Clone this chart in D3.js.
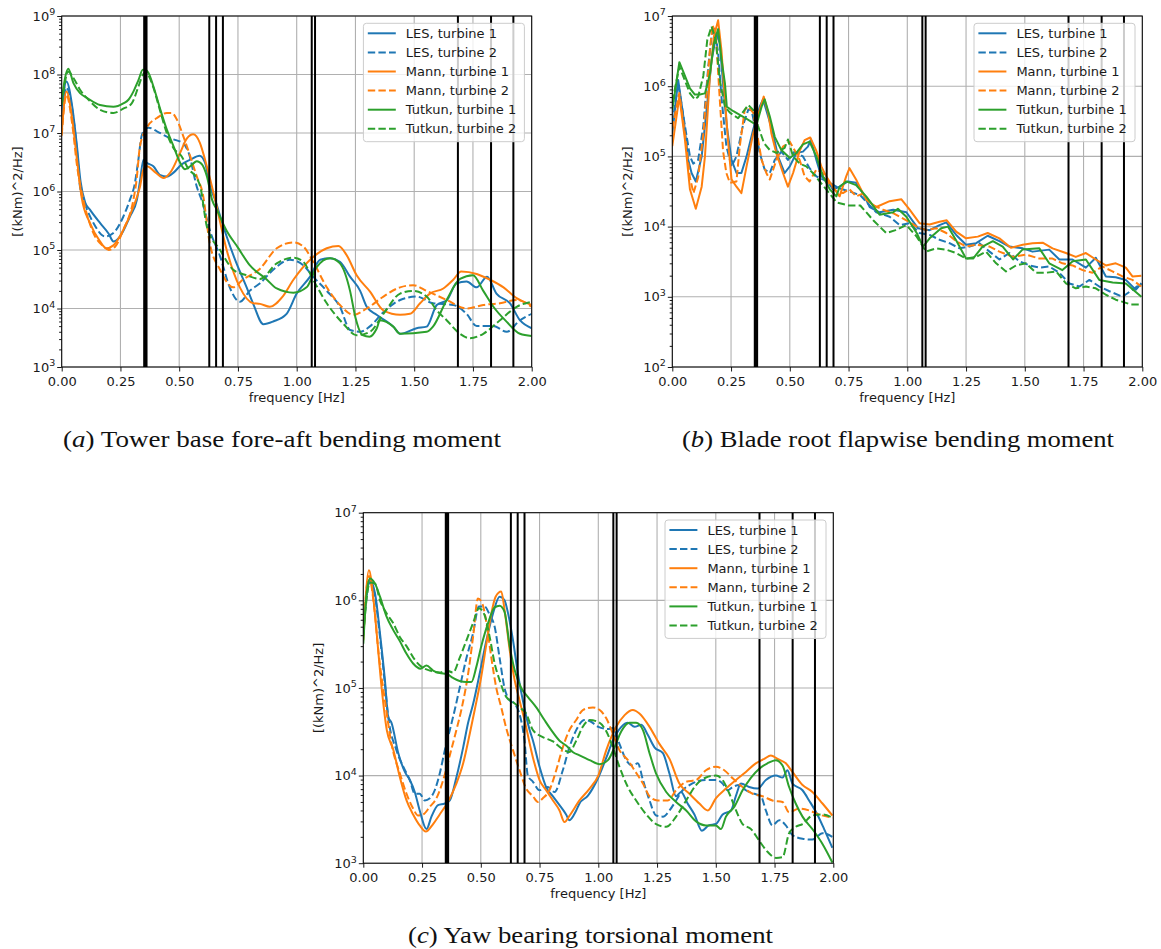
<!DOCTYPE html>
<html>
<head>
<meta charset="utf-8">
<script src="https://cdn.jsdelivr.net/npm/d3@7"></script>
<style>
  body { margin: 0; background: #fff; }
  svg { display: block; font-family: "DejaVu Sans", sans-serif; }
  .grid line { stroke: #b0b0b0; stroke-width: 1.1; }
  .axis text { font-size: 13px; fill: #1a1a1a; font-family: "DejaVu Sans", sans-serif; }
  .axis line { stroke: #1a1a1a; stroke-width: 1; }
  .label { font-size: 13px; fill: #1a1a1a; }
  .legend text { font-size: 13px; fill: #1a1a1a; }
  .caption { font-family: "Liberation Serif", serif; font-size: 23px; fill: #111; }
</style>
</head>
<body>
<svg id="fig" width="1161" height="949"></svg>
<script>
// ---- shared chart settings ----
const seriesLabels = ["LES, turbine 1", "LES, turbine 2", "Mann, turbine 1", "Mann, turbine 2", "Tutkun, turbine 1", "Tutkun, turbine 2"];
const seriesColors = ["#1f77b4", "#1f77b4", "#ff7f0e", "#ff7f0e", "#2ca02c", "#2ca02c"];
const seriesDashed = [false, true, false, true, false, true];
const freqTicks = [0, 0.25, 0.5, 0.75, 1.0, 1.25, 1.5, 1.75, 2.0];
const markerFreqs = [0.351, 0.356, 0.361, 0.628, 0.657, 0.686, 1.064, 1.078, 1.686, 1.827, 1.922];
const towerYTicks = [1e3, 1e4, 1e5, 1e6, 1e7, 1e8, 1e9];
const bladeYTicks = [1e2, 1e3, 1e4, 1e5, 1e6, 1e7];
const yawYTicks = [1e3, 1e4, 1e5, 1e6, 1e7];

// ---- (a) tower base fore-aft bending moment, [frequency Hz, PSD] ----
const towerLes1 = [[0,2.0e7],[0.02,7.6e7],[0.045,2.8e7],[0.065,5.9e6],[0.08,1.5e6],[0.1,6.5e5],[0.12,4.9e5],[0.163,2.9e5],[0.2,1.9e5],[0.22,1.4e5],[0.248,1.7e5],[0.29,3.7e5],[0.32,7.2e5],[0.333,1.5e6],[0.348,3.5e6],[0.362,3.1e6],[0.39,2.7e6],[0.42,1.9e6],[0.447,1.8e6],[0.476,2.1e6],[0.51,2.9e6],[0.547,3.5e6],[0.587,4.1e6],[0.61,3.1e6],[0.632,1.2e6],[0.653,7.2e5],[0.68,3.2e5],[0.702,1.7e5],[0.744,5.9e4],[0.787,2.3e4],[0.815,1.2e4],[0.858,5.4e3],[0.9,6.0e3],[0.957,8.1e3],[1.0,1.8e4],[1.057,3.5e4],[1.1,6.8e4],[1.142,7.2e4],[1.184,6.3e4],[1.227,3.5e4],[1.27,2.0e4],[1.298,1.07e4],[1.34,7.8e3],[1.411,4.9e3],[1.44,3.7e3],[1.51,4.6e3],[1.553,4.9e3],[1.596,1.15e4],[1.64,1.4e4],[1.68,2.7e4],[1.723,2.9e4],[1.766,2.3e4],[1.81,3.5e4],[1.85,1.8e4],[1.907,1.23e4],[1.95,6.3e3],[2.0,4.6e3]];
const towerLes2 = [[0,1.2e7],[0.02,6.0e7],[0.045,2.5e7],[0.065,5.0e6],[0.078,1.2e6],[0.1,6.0e5],[0.135,2.9e5],[0.185,1.7e5],[0.22,1.95e5],[0.262,3.7e5],[0.29,7.2e5],[0.31,1.3e6],[0.325,3.2e6],[0.34,8.9e6],[0.355,1.15e7],[0.37,1.23e7],[0.405,1.07e7],[0.447,8.7e6],[0.476,7.8e6],[0.518,6.6e6],[0.54,4.6e6],[0.575,1.2e6],[0.6,6.3e5],[0.63,2.2e5],[0.674,7.8e4],[0.715,2.3e4],[0.758,1.3e4],[0.8,2.0e4],[0.844,2.7e4],[0.9,4.6e4],[0.971,6.8e4],[1.028,5.5e4],[1.07,3.5e4],[1.128,2.0e4],[1.184,1.07e4],[1.227,4.3e3],[1.27,4.0e3],[1.31,4.9e3],[1.37,8.7e3],[1.44,1.4e4],[1.51,1.6e4],[1.58,1.23e4],[1.666,1.15e4],[1.723,8.1e3],[1.766,5.0e3],[1.837,5.0e3],[1.894,4.0e3],[1.95,6.3e3],[2.0,8.1e3]];
const towerMann1 = [[0,1.0e7],[0.02,5.1e7],[0.045,1.7e7],[0.065,3.5e6],[0.085,7.9e5],[0.12,2.9e5],[0.163,1.4e5],[0.19,1.07e5],[0.22,1.2e5],[0.262,2.2e5],[0.305,5.5e5],[0.333,1.2e6],[0.348,2.4e6],[0.362,2.7e6],[0.4,2.1e6],[0.433,1.7e6],[0.462,2.1e6],[0.504,4.6e6],[0.533,8.1e6],[0.56,9.5e6],[0.588,6.8e6],[0.61,3.5e6],[0.632,1.6e6],[0.653,7.2e5],[0.702,1.0e5],[0.758,2.3e4],[0.815,1.23e4],[0.844,1.2e4],[0.886,1.07e4],[0.94,1.6e4],[0.986,3.1e4],[1.057,6.8e4],[1.128,1.07e5],[1.178,1.17e5],[1.213,8.1e4],[1.255,3.7e4],[1.312,1.95e4],[1.369,9.3e3],[1.44,7.8e3],[1.482,8.1e3],[1.525,1.23e4],[1.567,1.8e4],[1.624,2.2e4],[1.666,3.1e4],[1.7,4.3e4],[1.766,3.9e4],[1.823,3.1e4],[1.88,2.3e4],[1.936,1.5e4],[2.0,1.15e4]];
const towerMann2 = [[0,9.0e6],[0.02,4.5e7],[0.045,1.4e7],[0.065,2.8e6],[0.092,7.2e5],[0.135,1.95e5],[0.178,1.15e5],[0.2,1.0e5],[0.228,1.15e5],[0.262,2.2e5],[0.305,7.2e5],[0.318,1.5e6],[0.333,5.9e6],[0.362,1.23e7],[0.405,1.8e7],[0.447,2.2e7],[0.468,2.2e7],[0.49,1.7e7],[0.518,8.7e6],[0.547,4.0e6],[0.575,1.8e6],[0.6,9.3e5],[0.63,1.3e5],[0.674,4.6e4],[0.73,2.3e4],[0.77,3.1e4],[0.844,4.8e4],[0.915,1.07e5],[0.986,1.35e5],[1.028,1.15e5],[1.07,6.3e4],[1.128,2.3e4],[1.184,1.15e4],[1.241,7.8e3],[1.298,1.0e4],[1.369,1.6e4],[1.44,2.3e4],[1.496,2.5e4],[1.553,2.0e4],[1.638,1.4e4],[1.723,1.0e4],[1.794,1.15e4],[1.865,1.23e4],[1.936,1.4e4],[2.0,1.07e4]];
const towerTutkun1 = [[0,3.7e7],[0.028,1.26e8],[0.05,7.1e7],[0.078,4.8e7],[0.107,4.0e7],[0.163,3.0e7],[0.22,2.8e7],[0.262,3.2e7],[0.284,3.7e7],[0.305,5.1e7],[0.327,8.1e7],[0.345,1.2e8],[0.355,1.2e8],[0.37,1.05e8],[0.39,6.3e7],[0.42,2.5e7],[0.447,1.15e7],[0.476,5.9e6],[0.504,3.1e6],[0.525,2.4e6],[0.547,2.7e6],[0.575,3.3e6],[0.597,2.9e6],[0.618,1.8e6],[0.64,7.2e5],[0.66,4.9e5],[0.7,2.2e5],[0.75,1.1e5],[0.8,5.5e4],[0.87,3.2e4],[0.915,2.2e4],[0.986,1.86e4],[1.042,2.3e4],[1.085,5.1e4],[1.142,7.2e4],[1.184,5.9e4],[1.227,2.0e4],[1.25,7.0e3],[1.28,3.5e3],[1.31,3.3e3],[1.34,4.5e3],[1.355,6.3e3],[1.411,4.9e3],[1.44,3.7e3],[1.553,4.0e3],[1.58,4.9e3],[1.638,1.4e4],[1.695,3.2e4],[1.75,3.7e4],[1.794,2.0e4],[1.837,1.07e4],[1.894,5.9e3],[1.95,3.7e3],[2.0,3.4e3]];
const towerTutkun2 = [[0,3.0e7],[0.028,1.12e8],[0.05,8.7e7],[0.078,5.5e7],[0.12,3.5e7],[0.163,2.5e7],[0.22,2.2e7],[0.262,2.6e7],[0.298,3.2e7],[0.327,6.3e7],[0.345,9.8e7],[0.355,1.1e8],[0.37,9.5e7],[0.39,6.0e7],[0.42,2.3e7],[0.447,1.0e7],[0.476,5.5e6],[0.51,4.0e6],[0.54,2.4e6],[0.57,1.8e6],[0.59,1.2e6],[0.618,2.5e5],[0.674,1.0e5],[0.73,4.6e4],[0.787,3.7e4],[0.844,3.2e4],[0.915,5.9e4],[0.986,7.4e4],[1.028,6.3e4],[1.07,3.1e4],[1.128,1.23e4],[1.198,5.5e3],[1.255,3.5e3],[1.312,4.0e3],[1.369,8.1e3],[1.44,1.8e4],[1.496,2.0e4],[1.553,1.6e4],[1.596,9.3e3],[1.638,6.3e3],[1.695,3.7e3],[1.737,3.1e3],[1.794,3.7e3],[1.865,6.3e3],[1.936,1.07e4],[2.0,1.3e4]];

// ---- (b) blade root flapwise bending moment ----
const bladeLes1 = [[0,2.1e5],[0.025,1.23e6],[0.047,3.7e5],[0.068,8.9e4],[0.082,5.8e4],[0.1,4.4e4],[0.125,1.0e5],[0.146,4.6e5],[0.167,2.3e6],[0.188,5.6e6],[0.202,4.1e6],[0.216,1.1e6],[0.232,2.7e5],[0.252,8.9e4],[0.273,5.8e4],[0.294,5.8e4],[0.316,1.0e5],[0.344,2.4e5],[0.372,5.1e5],[0.386,6.5e5],[0.408,3.7e5],[0.429,2.1e5],[0.45,1.0e5],[0.478,5.8e4],[0.5,7.2e4],[0.528,1.12e5],[0.556,1.17e5],[0.577,1.38e5],[0.59,1.74e5],[0.613,8.9e4],[0.634,5.2e4],[0.655,4.7e4],[0.683,3.4e4],[0.712,3.7e4],[0.747,4.4e4],[0.782,4.2e4],[0.811,3.0e4],[0.84,1.9e4],[0.882,1.6e4],[0.94,1.74e4],[0.996,1.6e4],[1.045,9.5e3],[1.095,8.9e3],[1.137,1.05e4],[1.166,1.15e4],[1.208,7.6e3],[1.25,5.5e3],[1.293,5.8e3],[1.342,7.4e3],[1.392,6.2e3],[1.434,5.2e3],[1.491,4.9e3],[1.533,4.4e3],[1.604,4.7e3],[1.647,3.4e3],[1.703,3.4e3],[1.76,2.6e3],[1.802,3.6e3],[1.845,1.95e3],[1.887,1.9e3],[1.93,1.74e3],[1.972,1.26e3],[1.996,1.55e3]];
const bladeLes2 = [[0,3.0e5],[0.025,1.1e6],[0.054,2.7e5],[0.075,1.0e5],[0.089,7.9e4],[0.11,8.9e4],[0.132,2.7e5],[0.153,1.9e6],[0.167,5.1e6],[0.181,6.6e6],[0.195,3.0e6],[0.21,6.5e5],[0.23,1.4e5],[0.252,7.2e4],[0.273,1.0e5],[0.3,2.7e5],[0.323,4.6e5],[0.337,4.6e5],[0.351,2.7e5],[0.372,1.12e5],[0.393,6.5e4],[0.415,5.8e4],[0.436,8.9e4],[0.464,1.17e5],[0.492,8.9e4],[0.52,1.17e5],[0.556,1.0e5],[0.584,6.8e4],[0.613,5.2e4],[0.641,4.7e4],[0.67,4.2e4],[0.712,3.5e4],[0.75,3.2e4],[0.8,2.8e4],[0.84,2.0e4],[0.868,1.6e4],[0.925,1.38e4],[0.967,1.05e4],[1.01,1.12e4],[1.052,8.1e3],[1.095,7.6e3],[1.137,6.5e3],[1.18,5.8e3],[1.222,4.9e3],[1.265,5.2e3],[1.307,5.8e3],[1.35,4.4e3],[1.392,3.4e3],[1.434,4.2e3],[1.477,3.2e3],[1.52,2.8e3],[1.562,2.6e3],[1.604,2.7e3],[1.647,2.2e3],[1.69,1.55e3],[1.732,1.4e3],[1.775,1.74e3],[1.817,1.4e3],[1.86,1.2e3],[1.916,1.0e3],[1.958,1.26e3],[1.996,1.55e3]];
const bladeMann1 = [[0,1.4e5],[0.03,7.1e5],[0.054,1.7e5],[0.075,3.4e4],[0.1,1.8e4],[0.125,3.7e4],[0.139,1.0e5],[0.16,1.4e6],[0.177,5.1e6],[0.195,8.7e6],[0.209,3.3e6],[0.224,6.5e5],[0.238,1.55e5],[0.252,4.7e4],[0.273,3.7e4],[0.294,3.0e4],[0.316,7.2e4],[0.344,2.1e5],[0.372,4.6e5],[0.389,7.1e5],[0.408,4.2e5],[0.422,2.1e5],[0.443,1.1e5],[0.471,5.8e4],[0.492,3.7e4],[0.514,5.8e4],[0.542,1.2e5],[0.563,1.7e5],[0.587,1.86e5],[0.613,1.2e5],[0.634,7.2e4],[0.655,5.2e4],[0.683,3.7e4],[0.712,2.7e4],[0.74,5.2e4],[0.754,6.8e4],[0.782,4.7e4],[0.811,3.0e4],[0.826,2.4e4],[0.868,1.9e4],[0.925,2.3e4],[0.975,2.45e4],[1.01,1.74e4],[1.052,1.12e4],[1.095,1.07e4],[1.137,1.17e4],[1.168,1.23e4],[1.208,8.5e3],[1.25,6.8e3],[1.3,7.2e3],[1.342,8.1e3],[1.392,6.8e3],[1.441,5.0e3],[1.491,5.5e3],[1.533,5.8e3],[1.576,5.9e3],[1.618,4.9e3],[1.675,4.2e3],[1.717,3.7e3],[1.76,4.2e3],[1.802,3.4e3],[1.845,2.8e3],[1.887,3.0e3],[1.93,2.6e3],[1.958,1.95e3],[1.996,2.0e3]];
const bladeMann2 = [[0,2.5e5],[0.03,8.0e5],[0.054,2.0e5],[0.075,5.0e4],[0.09,3.0e4],[0.11,5.0e4],[0.132,2.1e5],[0.16,3.3e6],[0.171,7.4e6],[0.185,5.6e6],[0.202,6.5e5],[0.216,1.2e5],[0.23,5.8e4],[0.245,4.2e4],[0.273,4.4e4],[0.287,1.38e5],[0.308,4.6e5],[0.323,5.1e5],[0.344,4.2e5],[0.365,1.74e5],[0.38,8.9e4],[0.4,5.8e4],[0.415,4.7e4],[0.443,8.9e4],[0.471,1.38e5],[0.5,1.62e5],[0.52,1.23e5],[0.542,8.9e4],[0.563,5.2e4],[0.584,4.4e4],[0.613,6.5e4],[0.64,5.8e4],[0.67,4.0e4],[0.698,3.2e4],[0.726,3.0e4],[0.754,3.4e4],[0.782,2.7e4],[0.81,2.95e4],[0.855,2.0e4],[0.897,1.74e4],[0.94,1.55e4],[0.996,1.23e4],[1.04,1.0e4],[1.08,8.9e3],[1.123,9.5e3],[1.166,8.1e3],[1.208,6.2e3],[1.25,5.2e3],[1.293,5.5e3],[1.35,5.2e3],[1.392,4.4e3],[1.449,3.7e3],[1.505,4.0e3],[1.562,3.5e3],[1.618,3.5e3],[1.66,3.0e3],[1.703,2.8e3],[1.746,2.4e3],[1.788,2.2e3],[1.83,2.7e3],[1.873,2.3e3],[1.916,1.95e3],[1.958,1.74e3],[1.996,1.4e3]];
const bladeTutkun1 = [[0,4.6e5],[0.03,2.2e6],[0.047,1.6e6],[0.075,9.3e5],[0.096,7.6e5],[0.117,7.6e5],[0.139,7.9e5],[0.16,1.5e6],[0.177,4.1e6],[0.195,6.5e6],[0.209,2.5e6],[0.224,1.1e6],[0.232,5.1e5],[0.26,4.4e5],[0.3,3.7e5],[0.344,3.0e5],[0.358,2.8e5],[0.38,5.1e5],[0.393,6.5e5],[0.415,3.7e5],[0.436,1.9e5],[0.464,1.23e5],[0.5,9.5e4],[0.528,1.12e5],[0.556,1.48e5],[0.584,1.62e5],[0.613,1.0e5],[0.641,5.2e4],[0.67,3.4e4],[0.698,2.7e4],[0.712,3.7e4],[0.74,4.4e4],[0.782,3.9e4],[0.825,2.7e4],[0.882,1.48e4],[0.94,1.6e4],[0.96,1.8e4],[0.996,1.38e4],[1.04,8.1e3],[1.067,5.2e3],[1.095,6.8e3],[1.144,9.5e3],[1.173,1.0e4],[1.21,6.2e3],[1.25,3.5e3],[1.28,3.5e3],[1.32,5.2e3],[1.364,6.2e3],[1.406,5.2e3],[1.45,3.4e3],[1.49,4.7e3],[1.562,4.9e3],[1.604,3.0e3],[1.66,2.4e3],[1.704,3.2e3],[1.76,3.4e3],[1.817,1.74e3],[1.874,1.6e3],[1.93,1.55e3],[1.996,1.0e3]];
const bladeTutkun2 = [[0,6.0e5],[0.03,1.9e6],[0.054,1.2e6],[0.075,7.9e5],[0.096,6.5e5],[0.11,7.1e5],[0.132,1.4e6],[0.149,4.6e6],[0.167,7.1e6],[0.185,4.6e6],[0.202,1.23e6],[0.224,5.1e5],[0.245,4.2e5],[0.28,3.5e5],[0.308,4.6e5],[0.323,5.4e5],[0.344,4.6e5],[0.365,2.7e5],[0.39,1.55e5],[0.415,1.23e5],[0.443,1.12e5],[0.478,1.32e5],[0.492,1.74e5],[0.514,1.0e5],[0.542,7.9e4],[0.57,7.2e4],[0.598,5.8e4],[0.627,4.4e4],[0.655,3.4e4],[0.7,2.2e4],[0.75,2.0e4],[0.8,2.0e4],[0.855,1.23e4],[0.91,8.1e3],[0.95,8.9e3],[0.996,1.05e4],[1.04,7.2e3],[1.08,4.4e3],[1.123,4.9e3],[1.166,4.7e3],[1.208,4.2e3],[1.25,3.5e3],[1.293,3.7e3],[1.335,4.4e3],[1.378,3.0e3],[1.42,2.3e3],[1.463,2.8e3],[1.505,3.0e3],[1.548,2.2e3],[1.59,2.2e3],[1.633,2.3e3],[1.675,1.55e3],[1.717,1.32e3],[1.76,1.4e3],[1.802,1.32e3],[1.845,1.07e3],[1.887,9.1e2],[1.95,7.8e2],[1.996,7.8e2]];

// ---- (c) yaw bearing torsional moment ----
const yawLes1 = [[0,4.5e5],[0.028,1.7e6],[0.05,1.2e6],[0.071,4.2e5],[0.092,1.23e5],[0.106,4.7e4],[0.12,4.0e4],[0.149,1.8e4],[0.177,1.1e4],[0.198,8.9e3],[0.219,6.5e3],[0.24,4.0e3],[0.269,2.45e3],[0.29,3.4e3],[0.318,4.6e3],[0.347,4.8e3],[0.368,5.2e3],[0.396,9.5e3],[0.425,2.1e4],[0.446,4.0e4],[0.467,6.5e4],[0.495,1.45e5],[0.524,3.5e5],[0.552,7.1e5],[0.58,1.1e6],[0.601,1.0e6],[0.616,7.1e5],[0.637,3.5e5],[0.658,1.45e5],[0.679,7.2e4],[0.708,3.3e4],[0.722,2.5e4],[0.75,1.26e4],[0.778,7.4e3],[0.807,5.8e3],[0.835,4.6e3],[0.863,3.6e3],[0.877,3.1e3],[0.906,4.0e3],[0.92,4.8e3],[0.956,5.9e3],[1.0,9.5e3],[1.034,1.6e4],[1.062,2.5e4],[1.098,3.6e4],[1.126,4.0e4],[1.154,3.6e4],[1.183,3.8e4],[1.211,2.9e4],[1.239,2.1e4],[1.275,1.8e4],[1.303,1.05e4],[1.331,5.8e3],[1.352,6.5e3],[1.38,4.8e3],[1.409,3.6e3],[1.441,2.35e3],[1.47,2.7e3],[1.5,2.8e3],[1.529,3.6e3],[1.565,4.0e3],[1.586,5.9e3],[1.607,8.1e3],[1.642,7.4e3],[1.678,7.1e3],[1.713,8.9e3],[1.756,1.0e4],[1.784,9.5e3],[1.805,1.15e4],[1.826,8.1e3],[1.869,6.8e3],[1.897,5.2e3],[1.932,3.6e3],[1.961,2.45e3],[1.996,1.5e3]];
const yawLes2 = [[0,5.0e5],[0.028,1.6e6],[0.05,1.1e6],[0.071,3.8e5],[0.092,1.1e5],[0.106,4.7e4],[0.141,1.95e4],[0.17,1.26e4],[0.198,8.9e3],[0.219,6.2e3],[0.24,6.2e3],[0.262,5.2e3],[0.283,5.5e3],[0.304,6.8e3],[0.325,1.05e4],[0.347,1.95e4],[0.368,3.3e4],[0.389,5.6e4],[0.41,1.0e5],[0.439,2.2e5],[0.467,4.2e5],[0.492,8.5e5],[0.516,8.5e5],[0.538,6.8e5],[0.559,5.0e5],[0.58,2.2e5],[0.601,1.0e5],[0.623,7.2e4],[0.644,6.6e4],[0.665,5.0e4],[0.686,2.5e4],[0.7,1.0e4],[0.722,8.5e3],[0.75,6.8e3],[0.785,7.4e3],[0.814,6.5e3],[0.849,1.15e4],[0.877,2.1e4],[0.906,3.3e4],[0.941,4.3e4],[0.963,4.2e4],[1.0,3.6e4],[1.041,3.4e4],[1.062,3.5e4],[1.09,2.3e4],[1.119,1.5e4],[1.147,1.3e4],[1.168,1.38e4],[1.19,8.9e3],[1.218,5.2e3],[1.246,3.5e3],[1.275,3.4e3],[1.303,4.0e3],[1.331,5.2e3],[1.359,6.8e3],[1.388,7.8e3],[1.416,8.5e3],[1.458,8.9e3],[1.5,8.9e3],[1.529,8.1e3],[1.55,6.8e3],[1.572,7.4e3],[1.6,7.8e3],[1.628,6.8e3],[1.664,6.2e3],[1.692,5.8e3],[1.713,4.0e3],[1.741,2.7e3],[1.77,3.1e3],[1.798,2.7e3],[1.826,2.1e3],[1.869,1.9e3],[1.911,1.86e3],[1.954,2.2e3],[1.996,2.0e3]];
const yawMann1 = [[0,3.5e5],[0.024,2.2e6],[0.042,1.1e6],[0.057,4.2e5],[0.078,1.0e5],[0.1,3.3e4],[0.127,2.0e4],[0.156,9.5e3],[0.184,5.2e3],[0.212,3.6e3],[0.24,2.7e3],[0.266,2.3e3],[0.297,2.8e3],[0.325,3.6e3],[0.36,5.0e3],[0.396,8.1e3],[0.425,1.38e4],[0.453,3.0e4],[0.474,5.6e4],[0.502,1.35e5],[0.524,3.2e5],[0.545,7.1e5],[0.563,1.1e6],[0.587,1.26e6],[0.601,7.8e5],[0.623,2.7e5],[0.644,1.23e5],[0.665,7.2e4],[0.686,4.3e4],[0.722,1.6e4],[0.75,8.9e3],[0.778,6.8e3],[0.807,5.2e3],[0.835,4.0e3],[0.856,2.95e3],[0.878,3.5e3],[0.92,5.2e3],[0.963,7.1e3],[1.0,1.0e4],[1.034,1.95e4],[1.076,3.6e4],[1.112,4.9e4],[1.147,5.6e4],[1.175,5.1e4],[1.218,3.6e4],[1.26,2.3e4],[1.303,1.55e4],[1.345,8.1e3],[1.388,6.2e3],[1.43,4.8e3],[1.466,4.0e3],[1.5,5.5e3],[1.543,7.1e3],[1.586,8.9e3],[1.628,1.1e4],[1.67,1.38e4],[1.706,1.55e4],[1.734,1.7e4],[1.763,1.55e4],[1.798,1.38e4],[1.826,1.1e4],[1.869,7.8e3],[1.911,6.5e3],[1.954,4.8e3],[1.996,3.5e3]];
const yawMann2 = [[0,4.5e5],[0.024,1.9e6],[0.045,9.0e5],[0.065,2.5e5],[0.092,7.2e4],[0.12,2.3e4],[0.156,1.05e4],[0.184,6.2e3],[0.212,4.2e3],[0.233,3.5e3],[0.255,3.6e3],[0.283,4.4e3],[0.311,5.5e3],[0.34,8.9e3],[0.368,1.7e4],[0.396,3.3e4],[0.417,5.6e4],[0.446,1.45e5],[0.467,3.8e5],[0.488,1.05e6],[0.507,9.1e5],[0.524,5.5e5],[0.545,2.2e5],[0.566,1.0e5],[0.587,6.0e4],[0.608,3.5e4],[0.637,1.95e4],[0.665,1.15e4],[0.693,7.1e3],[0.722,5.8e3],[0.743,5.0e3],[0.764,5.5e3],[0.792,6.8e3],[0.821,1.15e4],[0.849,2.1e4],[0.877,3.3e4],[0.906,4.3e4],[0.934,5.6e4],[0.977,6.0e4],[1.006,5.6e4],[1.034,4.5e4],[1.062,3.0e4],[1.09,1.95e4],[1.126,1.5e4],[1.154,1.15e4],[1.19,8.1e3],[1.218,5.8e3],[1.253,5.2e3],[1.296,5.2e3],[1.331,6.8e3],[1.374,8.5e3],[1.416,8.9e3],[1.458,1.15e4],[1.5,1.26e4],[1.536,1.15e4],[1.572,9.3e3],[1.614,7.4e3],[1.657,6.2e3],[1.699,5.8e3],[1.741,5.2e3],[1.784,5.0e3],[1.812,3.8e3],[1.855,4.2e3],[1.897,4.0e3],[1.939,3.6e3],[1.996,3.3e3]];
const yawTutkun1 = [[0,3.2e5],[0.014,1.2e6],[0.028,1.78e6],[0.05,1.55e6],[0.071,1.1e6],[0.099,6.5e5],[0.127,4.6e5],[0.156,3.4e5],[0.184,2.45e5],[0.212,1.9e5],[0.243,1.66e5],[0.269,1.8e5],[0.297,1.58e5],[0.325,1.48e5],[0.354,1.45e5],[0.382,1.3e5],[0.41,1.2e5],[0.439,1.17e5],[0.46,1.17e5],[0.481,1.74e5],[0.502,3.0e5],[0.531,5.5e5],[0.559,8.3e5],[0.58,8.7e5],[0.601,7.4e5],[0.623,3.0e5],[0.644,1.6e5],[0.672,1.0e5],[0.7,7.9e4],[0.736,6.0e4],[0.771,4.3e4],[0.8,3.3e4],[0.835,2.5e4],[0.863,2.2e4],[0.891,1.86e4],[0.92,1.7e4],[0.963,1.5e4],[1.006,1.35e4],[1.041,1.5e4],[1.069,2.1e4],[1.098,3.2e4],[1.133,4.0e4],[1.161,4.0e4],[1.19,3.3e4],[1.218,1.8e4],[1.246,1.05e4],[1.289,6.5e3],[1.331,5.0e3],[1.374,4.0e3],[1.416,3.0e3],[1.458,2.7e3],[1.5,2.7e3],[1.522,2.45e3],[1.543,3.4e3],[1.579,4.4e3],[1.614,6.8e3],[1.65,9.5e3],[1.685,1.2e4],[1.72,1.38e4],[1.756,1.5e4],[1.784,1.3e4],[1.812,7.4e3],[1.84,4.8e3],[1.869,3.4e3],[1.911,2.45e3],[1.954,1.66e3],[1.996,1.02e3]];
const yawTutkun2 = [[0,4.0e5],[0.028,1.6e6],[0.05,1.55e6],[0.071,1.0e6],[0.099,7.1e5],[0.127,5.5e5],[0.156,3.8e5],[0.184,3.0e5],[0.219,2.1e5],[0.248,1.74e5],[0.283,1.58e5],[0.325,1.5e5],[0.354,1.58e5],[0.382,1.5e5],[0.41,2.2e5],[0.439,3.5e5],[0.467,5.5e5],[0.492,8.1e5],[0.516,6.8e5],[0.538,3.8e5],[0.559,1.9e5],[0.58,1.23e5],[0.608,7.9e4],[0.637,6.9e4],[0.665,6.0e4],[0.693,5.1e4],[0.722,3.3e4],[0.764,2.75e4],[0.807,2.45e4],[0.849,2.0e4],[0.877,1.86e4],[0.906,2.5e4],[0.934,3.6e4],[0.963,4.3e4],[1.0,4.1e4],[1.034,3.2e4],[1.062,2.1e4],[1.09,1.26e4],[1.126,7.4e3],[1.161,5.2e3],[1.204,3.6e3],[1.246,2.8e3],[1.289,2.6e3],[1.331,3.4e3],[1.374,5.2e3],[1.416,7.8e3],[1.458,9.5e3],[1.5,1.0e4],[1.529,8.9e3],[1.558,6.2e3],[1.586,4.0e3],[1.614,2.8e3],[1.65,2.45e3],[1.685,1.8e3],[1.72,1.35e3],[1.756,1.15e3],[1.784,1.17e3],[1.812,2.2e3],[1.84,2.6e3],[1.869,2.8e3],[1.911,3.5e3],[1.954,3.6e3],[1.996,3.3e3]];

// ---- panel layout ----
const panels = [
  { id: "a", left: 61.7, top: 16, width: 470, height: 351, yTicks: towerYTicks,
    series: [towerLes1, towerLes2, towerMann1, towerMann2, towerTutkun1, towerTutkun2],
    curve: d3.curveMonotoneX, letter: "a", caption: "Tower base fore-aft bending moment",
    capX: 282, capY: 447, capW: 438 },
  { id: "b", left: 672.3, top: 16, width: 470, height: 351, yTicks: bladeYTicks,
    series: [bladeLes1, bladeLes2, bladeMann1, bladeMann2, bladeTutkun1, bladeTutkun2],
    curve: d3.curveLinear, letter: "b", caption: "Blade root flapwise bending moment",
    capX: 898, capY: 447, capW: 432 },
  { id: "c", left: 363.3, top: 512.7, width: 470, height: 350.5, yTicks: yawYTicks,
    series: [yawLes1, yawLes2, yawMann1, yawMann2, yawTutkun1, yawTutkun2],
    curve: d3.curveMonotoneX, letter: "c", caption: "Yaw bearing torsional moment",
    capX: 590.5, capY: 943, capW: 365 }
];

const svg = d3.select("#fig");

function drawPanel(p) {
  const x = d3.scaleLinear().domain([0, 2]).range([0, p.width]);
  const y = d3.scaleLog().domain(d3.extent(p.yTicks)).range([p.height, 0]);

  const g = svg.append("g").attr("transform", `translate(${p.left},${p.top})`);

  // grid
  g.append("g").attr("class", "grid").selectAll("line").data(freqTicks).join("line")
    .attr("x1", d => x(d)).attr("x2", d => x(d))
    .attr("y1", 0).attr("y2", p.height);
  g.append("g").attr("class", "grid").selectAll("line").data(p.yTicks).join("line")
    .attr("x1", 0).attr("x2", p.width)
    .attr("y1", d => y(d)).attr("y2", d => y(d));

  g.append("clipPath").attr("id", "clip-" + p.id)
    .append("rect").attr("width", p.width).attr("height", p.height);

  const plot = g.append("g").attr("clip-path", `url(#clip-${p.id})`);

  const line = d3.line()
    .x(d => x(d[0]))
    .y(d => y(d[1]))
    .curve(p.curve);

  plot.selectAll("path.series").data(p.series).join("path")
    .attr("class", "series")
    .attr("d", line)
    .attr("fill", "none")
    .attr("stroke", (d, i) => seriesColors[i])
    .attr("stroke-width", 2)
    .attr("stroke-linejoin", "round")
    .attr("stroke-dasharray", (d, i) => seriesDashed[i] ? "7.4,3.2" : null);

  // black reference frequencies
  plot.selectAll("line.marker").data(markerFreqs).join("line")
    .attr("class", "marker")
    .attr("x1", d => x(d)).attr("x2", d => x(d))
    .attr("y1", 0).attr("y2", p.height)
    .attr("stroke", "#000").attr("stroke-width", 2);

  // axes
  const xAxisG = g.append("g").attr("class", "axis")
    .attr("transform", `translate(0,${p.height})`)
    .call(d3.axisBottom(x).tickValues(freqTicks).tickFormat(d3.format(".2f"))
      .tickSize(4.5).tickPadding(5.5));
  xAxisG.select(".domain").remove();

  const minor = y.ticks().filter(v => !p.yTicks.includes(v));
  const yMinorG = g.append("g").attr("class", "axis")
    .call(d3.axisLeft(y).tickValues(minor).tickSize(2.6).tickFormat(""));
  yMinorG.select(".domain").remove();
  yMinorG.selectAll(".tick line").attr("stroke-width", 0.8);

  const yAxisG = g.append("g").attr("class", "axis")
    .call(d3.axisLeft(y).tickValues(p.yTicks).tickSize(4.5).tickPadding(2).tickFormat(() => ""));
  yAxisG.select(".domain").remove();
  yAxisG.selectAll(".tick text").each(function(d) {
    const t = d3.select(this);
    t.append("tspan").text("10");
    t.append("tspan").attr("dy", "-0.55em").style("font-size", "9.5px")
      .text(Math.round(Math.log10(d)));
  });

  // frame
  g.append("rect").attr("width", p.width).attr("height", p.height)
    .attr("fill", "none").attr("stroke", "#000").attr("stroke-width", 1);

  // axis titles
  g.append("text").attr("class", "label")
    .attr("x", p.width / 2).attr("y", p.height + 35)
    .attr("text-anchor", "middle").text("frequency [Hz]");
  g.append("text").attr("class", "label")
    .attr("transform", `translate(-40,${p.height / 2}) rotate(-90)`)
    .attr("text-anchor", "middle").text("[(kNm)^2/Hz]");

  // legend
  const legendW = 161, rowH = 19.1;
  const legend = g.append("g").attr("class", "legend")
    .attr("transform", `translate(${p.width - 7.3 - legendW},7.3)`);
  legend.append("rect")
    .attr("width", legendW).attr("height", 118.4).attr("rx", 3)
    .attr("fill", "#fff").attr("fill-opacity", 0.8)
    .attr("stroke", "#cccccc").attr("stroke-width", 1);
  const rows = legend.selectAll("g.row").data(seriesLabels).join("g")
    .attr("class", "row")
    .attr("transform", (d, i) => `translate(0,${10 + i * rowH})`);
  rows.append("line")
    .attr("x1", 4.4).attr("x2", 32.4)
    .attr("stroke", (d, i) => seriesColors[i])
    .attr("stroke-width", 2)
    .attr("stroke-dasharray", (d, i) => seriesDashed[i] ? "7.4,3.2" : null);
  rows.append("text")
    .attr("x", 42.4).attr("dy", "0.35em")
    .text(d => d);

  // caption
  const cap = svg.append("text").attr("class", "caption")
    .attr("x", p.capX).attr("y", p.capY)
    .attr("text-anchor", "middle")
    .attr("textLength", p.capW).attr("lengthAdjust", "spacingAndGlyphs");
  cap.append("tspan").text("(");
  cap.append("tspan").style("font-style", "italic").text(p.letter);
  cap.append("tspan").text(") " + p.caption);
}

panels.forEach(drawPanel);
</script>
</body>
</html>
